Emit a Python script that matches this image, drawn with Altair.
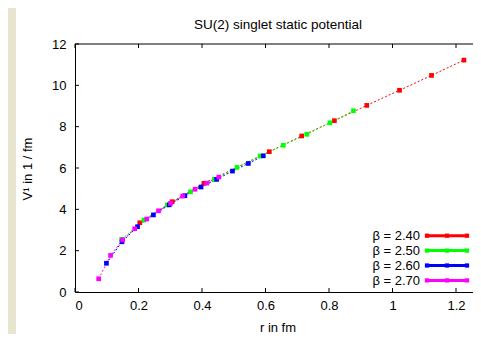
import altair as alt
import pandas as pd

# ---------------- data ----------------
series_labels = ["β = 2.40", "β = 2.50", "β = 2.60", "β = 2.70"]
series_colors = ["#ff0000", "#00ff00", "#0000ff", "#ff00ff"]

r_240 = [0.204, 0.306, 0.406, 0.612, 0.714, 0.817, 0.919, 1.022, 1.123, 1.225]
v_240 = [3.35, 4.37, 5.26, 6.79, 7.55, 8.29, 9.03, 9.76, 10.48, 11.22]

r_250 = [0.147, 0.217, 0.291, 0.364, 0.439, 0.510, 0.583, 0.656, 0.730, 0.803, 0.877]
v_250 = [2.55, 3.48, 4.21, 4.85, 5.45, 6.03, 6.58, 7.10, 7.63, 8.19, 8.77]

r_260 = [0.099, 0.148, 0.197, 0.247, 0.297, 0.346, 0.397, 0.446, 0.496, 0.546, 0.593]
v_260 = [1.39, 2.43, 3.16, 3.73, 4.22, 4.66, 5.08, 5.45, 5.85, 6.22, 6.59]

r_270 = [0.0745, 0.112, 0.150, 0.188, 0.226, 0.263, 0.301, 0.339, 0.378, 0.415, 0.453]
v_270 = [0.64, 1.77, 2.52, 3.06, 3.53, 3.93, 4.29, 4.64, 4.97, 5.27, 5.56]

x_ticks = [0, 0.2, 0.4, 0.6, 0.8, 1, 1.2]
y_ticks = [0, 2, 4, 6, 8, 10, 12]

title_text = "SU(2) singlet static potential"
x_title = "r in fm"
y_title = "V¹ in 1 / fm"

# ---------------- layout ----------------
W, H = 398, 248
PAD = {"left": 67, "top": 36, "right": 0, "bottom": 42}
FONT = "Liberation Sans"
X_MAX = W / 317.5

rows = []
for lab, rr, vv in zip(series_labels, [r_240, r_250, r_260, r_270],
                       [v_240, v_250, v_260, v_270]):
    for i, (a, b) in enumerate(zip(rr, vv)):
        rows.append({"beta": lab, "r": a, "V": b, "i": i})
df = pd.DataFrame(rows)

xs = alt.Scale(domain=[0, X_MAX], nice=False, zero=False)
ys = alt.Scale(domain=[0, 12], nice=False, zero=False)
cs = alt.Scale(domain=series_labels, range=series_colors)

x_enc = alt.X("r:Q", scale=xs,
              axis=alt.Axis(values=x_ticks, format="~g", title=None, ticks=False,
                            grid=False, domainColor="black", domainWidth=1,
                            labelFontSize=13, labelFont=FONT, labelColor="black",
                            labelPadding=7))
y_enc = alt.Y("V:Q", scale=ys,
              axis=alt.Axis(values=y_ticks, format="~g", title=None, ticks=False,
                            grid=False, domainColor="black", domainWidth=1,
                            labelFontSize=13, labelFont=FONT, labelColor="black",
                            labelPadding=9))

layers = []

# beige strip on the left
strip = alt.Chart(pd.DataFrame({"a": [0]})).mark_rect(color="#e7e5cf").encode(
    x=alt.value(-PAD["left"]), x2=alt.value(-PAD["left"] + 8),
    y=alt.value(-PAD["top"]), y2=alt.value(H + PAD["bottom"]))
layers.append(strip)

lines = alt.Chart(df).mark_line(strokeWidth=1, strokeDash=[2, 2]).encode(
    x=x_enc, y=y_enc,
    color=alt.Color("beta:N", scale=cs, legend=None),
    order="i:Q")
layers.append(lines)

pts = alt.Chart(df).mark_square(size=22, opacity=1).encode(
    x=alt.X("r:Q", scale=xs), y=alt.Y("V:Q", scale=ys),
    color=alt.Color("beta:N", scale=cs, legend=None))
layers.append(pts)

# frame: top border
layers.append(alt.Chart(pd.DataFrame({"a": [0]})).mark_rule(color="black", strokeWidth=1).encode(
    x=alt.value(0), x2=alt.value(W), y=alt.value(0)))

# inward ticks
xt = pd.DataFrame({"r": x_ticks})
yt = pd.DataFrame({"V": y_ticks})
layers.append(alt.Chart(xt).mark_rule(color="black").encode(
    x=alt.X("r:Q", scale=xs), y=alt.value(H), y2=alt.value(H - 4)))
layers.append(alt.Chart(xt).mark_rule(color="black").encode(
    x=alt.X("r:Q", scale=xs), y=alt.value(0), y2=alt.value(4)))
layers.append(alt.Chart(yt).mark_rule(color="black").encode(
    y=alt.Y("V:Q", scale=ys), x=alt.value(0), x2=alt.value(4)))

# legend
leg_y0 = 191.7
leg_dy = 14.9
for k, (lab, col) in enumerate(zip(series_labels, series_colors)):
    yy = leg_y0 + k * leg_dy
    d1 = pd.DataFrame({"t": [lab]})
    layers.append(alt.Chart(d1).mark_text(align="right", baseline="middle",
                                          fontSize=13, font=FONT, color="black").encode(
        x=alt.value(345), y=alt.value(yy + 0.5), text="t:N"))
    layers.append(alt.Chart(d1).mark_rule(color=col, strokeWidth=3).encode(
        x=alt.value(352), x2=alt.value(392), y=alt.value(yy)))
    for px in (352, 372, 392):
        layers.append(alt.Chart(d1).mark_square(color=col, size=18, opacity=1).encode(
            x=alt.value(px), y=alt.value(yy)))

# titles
def txt(s, x, y, angle=0, size=13, baseline="alphabetic"):
    kw = dict(align="center", baseline=baseline, fontSize=size, font=FONT, color="black")
    if angle:
        kw["angle"] = angle
    return alt.Chart(pd.DataFrame({"t": [s]})).mark_text(**kw).encode(
        x=alt.value(x), y=alt.value(y), text="t:N")

layers.append(txt(title_text, 203, -15, size=13.5))
layers.append(txt(x_title, 203, 287.5))
layers.append(txt(y_title, -47, 125, angle=270, baseline="middle"))

chart = alt.layer(*layers).properties(
    width=W, height=H, padding=PAD,
    autosize=alt.AutoSizeParams(type="none"),
    background="white",
).configure_view(stroke=None)

chart.save("out.html", embed_options={"renderer": "svg", "actions": False})
